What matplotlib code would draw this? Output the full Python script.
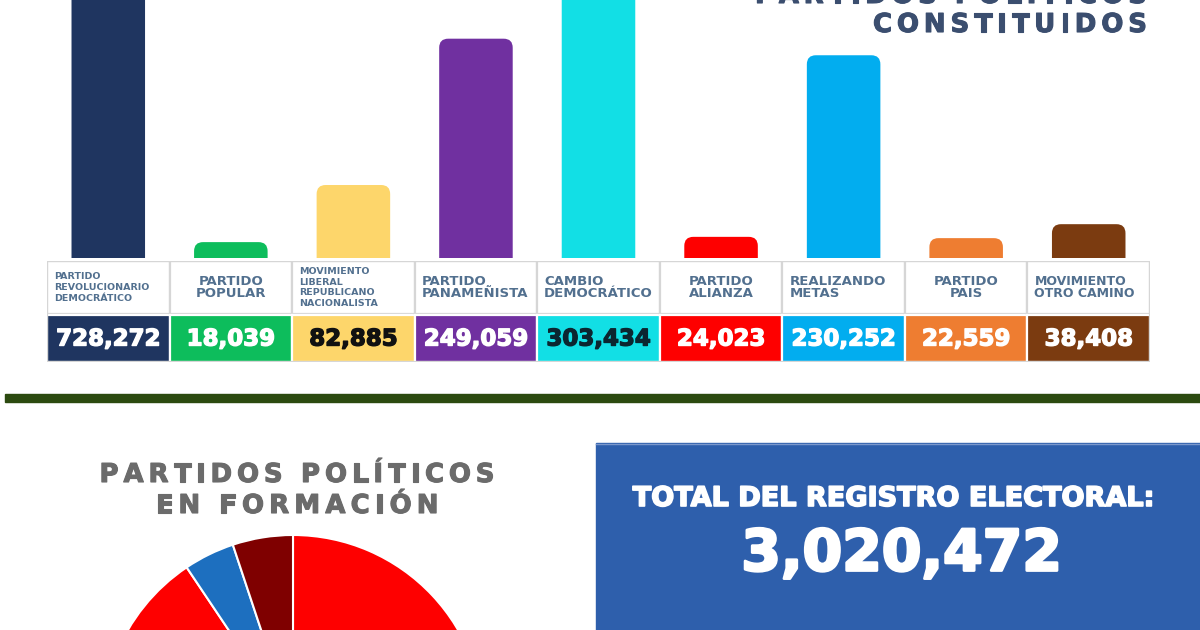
import matplotlib
matplotlib.use("Agg")
import matplotlib.pyplot as plt
import matplotlib.patheffects as pe
from matplotlib.patches import Rectangle, FancyBboxPatch
from matplotlib.font_manager import FontProperties

W, H = 1200, 630

# partidos constituidos
partidos = [
    "PARTIDO\nREVOLUCIONARIO\nDEMOCRÁTICO",
    "PARTIDO\nPOPULAR",
    "MOVIMIENTO\nLIBERAL\nREPUBLICANO\nNACIONALISTA",
    "PARTIDO\nPANAMEÑISTA",
    "CAMBIO\nDEMOCRÁTICO",
    "PARTIDO\nALIANZA",
    "REALIZANDO\nMETAS",
    "PARTIDO\nPAIS",
    "MOVIMIENTO\nOTRO CAMINO",
]
inscritos = [728272, 18039, 82885, 249059, 303434, 24023, 230252, 22559, 38408]
colores = ["#1f3560", "#0dbd5c", "#fdd66b", "#7030a0", "#12dfe5",
           "#fe0000", "#02adef", "#ee7d31", "#7b3b10"]
color_cifra = ["white", "white", "#111111", "white", "#0b2630",
               "white", "white", "white", "white"]

# partidos en formacion (shares, reading the visible wedges)
formacion = [52.0, 38.6, 4.3, 5.1]
formacion_colores = ["#fe0000", "#fe0000", "#1d6fbf", "#7f0000"]

total_registro = 3020472

# label styling per column
label_size = [6.8, 9.5, 6.8, 9.5, 9.5, 9.5, 9.5, 9.5, 9.0]
label_ha = ["left", "center", "left", "left", "left", "center", "left", "center", "left"]

fig = plt.figure(figsize=(W / 100, H / 100), dpi=100, facecolor="white")


def axes_px(x0, y0, x1, y1):
    return fig.add_axes([x0 / W, 1 - y1 / H, (x1 - x0) / W, (y1 - y0) / H])


def heavy(color, lw=1.0):
    return [pe.withStroke(linewidth=lw, foreground=color)]


# full-figure canvas in pixel units
canvas = fig.add_axes([0, 0, 1, 1])
canvas.set_xlim(0, W)
canvas.set_ylim(H, 0)
canvas.axis("off")


def spaced(x, y, s, size, width, ha, color):
    # letter-spaced bold text, stretched to the given width in px
    fp = FontProperties(family="DejaVu Sans", weight="bold", size=size)
    renderer = fig.canvas.get_renderer()
    widths = []
    for ch in s:
        if ch == " ":
            widths.append(size * 100 / 72 * 0.33)
        else:
            widths.append(renderer.get_text_width_height_descent(ch, fp, ismath=False)[0])
    gap = (width - sum(widths)) / (len(s) - 1)
    start = x - width if ha == "right" else x - width / 2
    for ch, w in zip(s, widths):
        canvas.text(start, y, ch, fontproperties=fp, color=color, ha="left",
                    va="baseline", path_effects=heavy(color, 0.8))
        start += w + gap


# titles (first line of the top title runs off the top edge, as in the source)
spaced(1147, 3, "PARTIDOS POLÍTICOS", 18.7, 392, "right", "#3b4e6f")
spaced(1147, 32, "CONSTITUIDOS", 18.7, 274, "right", "#3b4e6f")
spaced(297, 482, "PARTIDOS POLÍTICOS", 18.7, 395, "center", "#6b6b6b")
spaced(297, 513, "EN FORMACIÓN", 18.7, 283, "center", "#6b6b6b")

# green divider
canvas.add_patch(Rectangle((5, 394), W - 5, 8, color="#2c4a10"))

# blue total box
canvas.add_patch(Rectangle((596, 443), W - 596, H - 443, color="#2e5fac"))
canvas.plot([596, W], [443.5, 443.5], color="#7b98cc", lw=1)
canvas.text(894, 499, "TOTAL DEL REGISTRO ELECTORAL:", color="white", fontsize=19.5,
            fontweight="bold", ha="center", va="center", path_effects=heavy("white", 1.2))
canvas.text(902, 555, f"{total_registro:,}", color="white", fontsize=41,
            fontweight="bold", ha="center", va="center", path_effects=heavy("white", 2.0))

# bars
n = len(inscritos)
ax = axes_px(47, 0, 1150, 258)
ymax = 293000
bars = ax.bar(range(n), inscritos, width=0.6, color=colores)
ax.set_xlim(-0.5, n - 0.5)
ax.set_ylim(0, ymax)
ax.axis("off")
x_per_px = n / 1103
y_per_px = ymax / 258
r_px = 9
for b in bars:
    x, w, h = b.get_x(), b.get_width(), b.get_height()
    fc = b.get_facecolor()
    b.remove()
    ax.add_patch(FancyBboxPatch(
        (x, -r_px * y_per_px), w, h + r_px * y_per_px,
        boxstyle=f"round,pad=0,rounding_size={r_px * x_per_px}",
        mutation_aspect=y_per_px / x_per_px, fc=fc, ec="none"))

# table under the bars
tab = axes_px(47, 261, 1150, 362)
tab.set_xlim(-0.5, n - 0.5)
tab.set_ylim(101, 0)
tab.axis("off")
pad = 7 * x_per_px
for i in range(n):
    tab.add_patch(Rectangle((i - 0.5, 0), 1, 53, fc="white", ec="#d6d6d6", lw=1.6))
    tab.add_patch(Rectangle((i - 0.5, 54), 1, 47, fc=colores[i], ec="white", lw=1.6))
    lx = i if label_ha[i] == "center" else i - 0.5 + pad
    ls = 1.25 if label_size[i] < 8 else 0.92
    tab.text(lx, 26.5, partidos[i], ha=label_ha[i], va="center", fontsize=label_size[i],
             fontweight="bold", color="#52708f", linespacing=ls, multialignment=label_ha[i])
    tab.text(i, 78, f"{inscritos[i]:,}", ha="center", va="center", fontsize=16.5,
             fontweight="bold", color=color_cifra[i], path_effects=heavy(color_cifra[i], 1.0))
tab.add_patch(Rectangle((-0.5, 0), n, 101, fc="none", ec="#d6d6d6", lw=1.6))

# pie (centre sits below the figure edge)
pie_ax = axes_px(102, 535, 484, 917)
pie_ax.pie(formacion, colors=formacion_colores, startangle=90, counterclock=False,
           wedgeprops=dict(edgecolor="white", linewidth=1.5))
pie_ax.set_xlim(-1, 1)
pie_ax.set_ylim(-1, 1)

fig.savefig("out.png", dpi=100, facecolor="white")
